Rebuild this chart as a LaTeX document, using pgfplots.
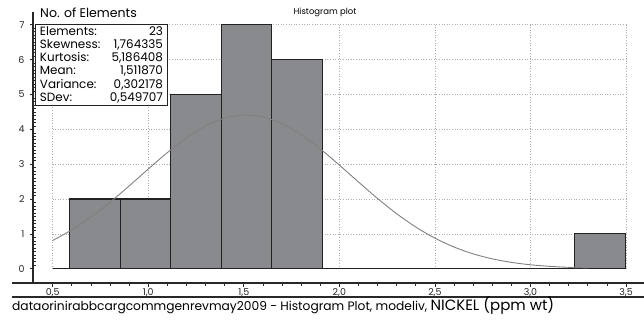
\documentclass[border=0pt]{standalone}
\usepackage{pgfplots}
\pgfplotsset{compat=1.18}
\usepackage{fontspec}
\setmainfont{Poppins}

\definecolor{barfill}{RGB}{137,138,141}
\definecolor{baredge}{RGB}{34,34,34}
\definecolor{curvecol}{RGB}{128,128,128}
\definecolor{gridcol}{RGB}{175,175,175}
\definecolor{axiscol}{RGB}{40,40,40}

% bin edges and counts (last row closes the final interval)
\pgfplotstableread{
edge   count
0.590  2
0.854  2
1.118  5
1.383  7
1.647  6
1.911  0
2.175  0
2.439  0
2.704  0
2.968  0
3.232  1
3.496  0
}\histdata

% fitted normal curve scaled to counts
\pgfplotstableread{
x    y
0.5  0.8103
0.6  1.1140
0.7  1.4817
0.8  1.9065
0.9  2.3734
1.0  2.8585
1.1  3.3304
1.2  3.7542
1.3  4.0941
1.4  4.3193
1.5  4.4087
1.6  4.3534
1.7  4.1589
1.8  3.8437
1.9  3.4368
2.0  2.9730
2.1  2.4880
2.2  2.0144
2.3  1.5778
2.4  1.1956
2.5  0.8765
2.6  0.6217
2.7  0.4266
2.8  0.2832
2.9  0.1818
3.0  0.1130
3.1  0.0679
3.2  0.0395
3.3  0.0222
}\normalfit

\begin{document}
\begin{tikzpicture}[x=1bp,y=1bp]
\useasboundingbox (-33,-38) rectangle (611,283);
\begin{axis}[
  at={(0,0)}, anchor=south west,
  scale only axis,
  width=606bp, height=271bp,
  xmin=0.397, xmax=3.568,
  ymin=-0.41, ymax=7.364,
  axis x line*=bottom,
  axis y line*=left,
  axis line style={axiscol, line width=1.1bp},
  clip=false,
  tick align=outside,
  tick style={axiscol, line width=0.7bp},
  xtick={0.5,1.0,...,3.5},
  minor x tick num=4,
  ytick={0,1,...,7},
  minor y tick num=9,
  major tick length=4bp,
  minor tick length=2.5bp,
  major y tick style={xshift=1bp},
  minor y tick style={xshift=2.5bp, line width=0.5bp},
  ticklabel style={font=\fontsize{9.5}{9.5}\selectfont, text=black!85},
  xticklabel={\pgfmathprintnumber[fixed, fixed zerofill, precision=1, use comma, assume math mode=true]{\tick}},
  yticklabel={\pgfmathprintnumber[assume math mode=true]{\tick}},
  xticklabel style={yshift=1.5bp},
  yticklabel style={xshift=-1bp},
]
% dotted grid over the data range
\foreach \gx in {0.5,1.0,...,3.5}{
  \edef\tmp{\noexpand\draw[gridcol, dotted, line width=0.6bp] (axis cs:\gx,0) -- (axis cs:\gx,7);}\tmp
}
\foreach \gy in {1,...,7}{
  \edef\tmp{\noexpand\draw[gridcol, dotted, line width=0.6bp] (axis cs:0.5,\gy) -- (axis cs:3.5,\gy);}\tmp
}
% baseline
\addplot[baredge, line width=1.1bp] coordinates {(0.5,0) (3.496,0)};
% histogram bars
\addplot[ybar interval, fill=barfill, draw=baredge, line width=1.1bp] table[x=edge, y=count] {\histdata};
% normal curve
\addplot[curvecol, line width=0.9bp, smooth] table[x=x, y=y] {\normalfit};

% statistics box
\node[draw=baredge, line width=0.9bp, fill=white, anchor=north west,
      text width=123bp, inner xsep=4.5bp, inner ysep=2.5bp, align=left,
      font=\fontsize{12}{13.1}\selectfont]
  at (rel axis cs:0.0033,0.9557)
  {Elements:\hfill 23\\
   Skewness:\hfill 1,764335\\
   Kurtosis:\hfill 5,186408\\
   Mean:\hfill 1,511870\\
   Variance:\hfill 0,302178\\
   SDev:\hfill 0,549707};
\end{axis}

% labels around the plot area
\node[anchor=west, font=\fontsize{12.6}{13}\selectfont, inner sep=0pt] at (7,270.5) {No. of Elements};
\node[font=\fontsize{8.5}{9}\selectfont, inner sep=0pt] at (292,271) {Histogram plot};

% lower frame of the value strip
\draw[axiscol, line width=1.1bp] (-21,0) -- (611,0);
\draw[axiscol, line width=1.1bp] (-21,-14) -- (611,-14);

% caption
\node[anchor=base west, inner sep=0pt, font=\fontsize{12.3}{13}\selectfont] at (-21,-27.5)
  {dataorinirabbcargcommgenrevmay2009 - Histogram Plot, modeliv, {\fontsize{15}{16}\selectfont NICKEL (ppm wt)}};
\end{tikzpicture}
\end{document}
